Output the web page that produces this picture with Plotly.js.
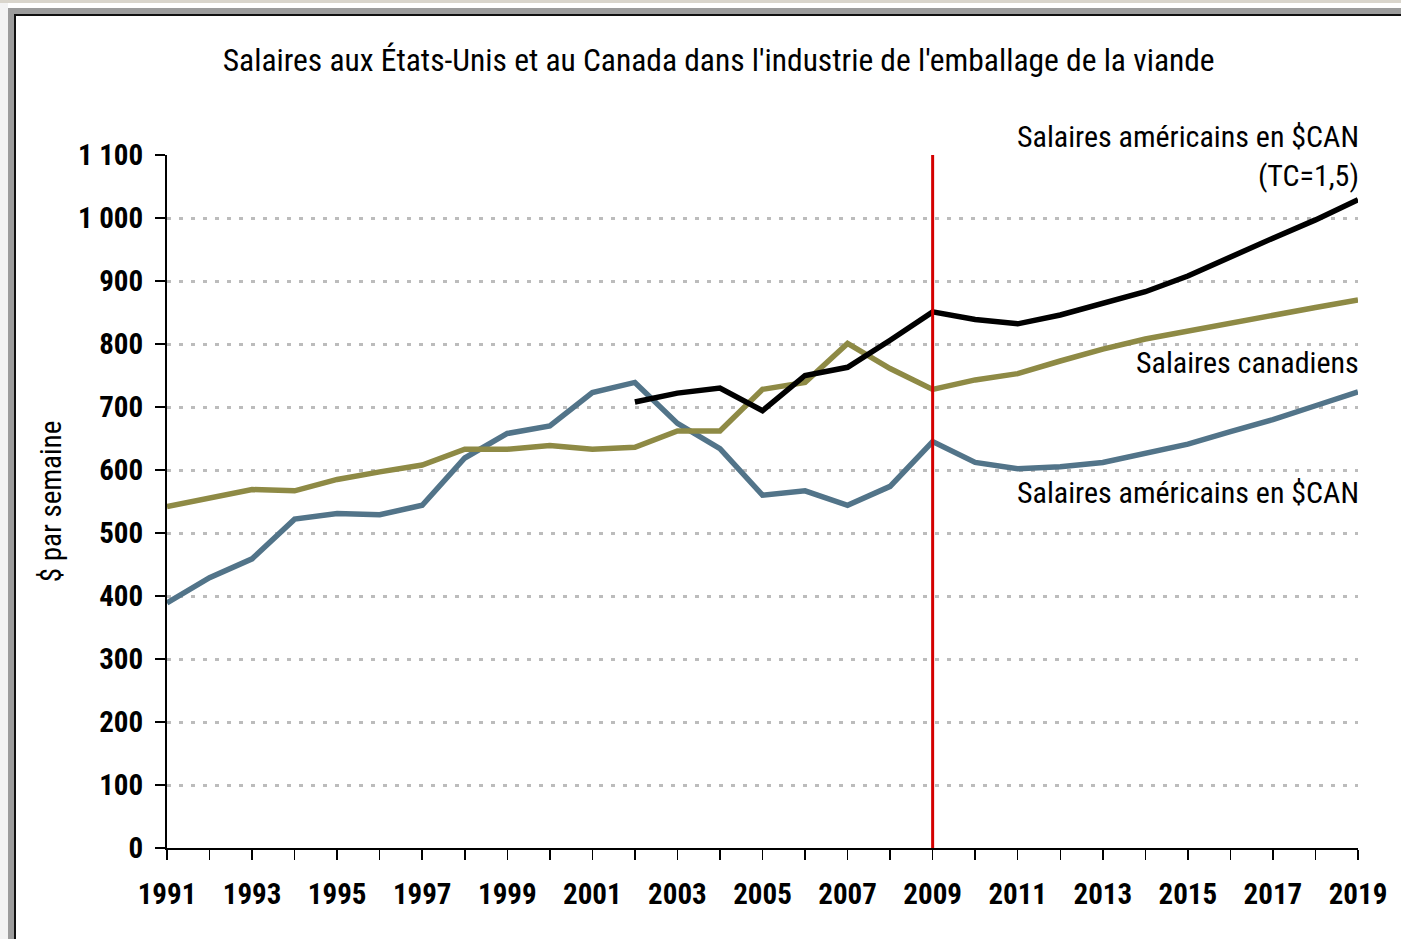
<!DOCTYPE html>
<html>
<head>
<meta charset="utf-8">
<script src="https://cdn.plot.ly/plotly-3.0.1.min.js"></script>
<style>
  html, body { margin: 0; padding: 0; background: #ffffff; }
  #wrap { position: relative; width: 1401px; height: 939px; overflow: hidden; background: #ffffff; }
  .band { position: absolute; }
  #chart { position: absolute; left: 0; top: 0; width: 1401px; height: 939px; }
</style>
</head>
<body>
<div id="wrap">
  <div class="band" style="left:0;top:0;width:1401px;height:3px;background:#d9d5cc;"></div>
  <div class="band" style="left:0;top:3px;width:8px;height:936px;background:#f3f3f3;"></div>
  <div class="band" style="left:8px;top:8px;width:1393px;height:6px;background:#9c9c9c;"></div>
  <div class="band" style="left:8px;top:8px;width:6px;height:931px;background:#9c9c9c;"></div>
  <div class="band" style="left:14px;top:14px;width:1387px;height:2px;background:#111111;"></div>
  <div class="band" style="left:14px;top:14px;width:2px;height:925px;background:#111111;"></div>
  <div id="chart"></div>
</div>
<script>
// ---- Data ----
const years = [1991,1992,1993,1994,1995,1996,1997,1998,1999,2000,2001,2002,2003,2004,2005,2006,2007,2008,2009,2010,2011,2012,2013,2014,2015,2016,2017,2018,2019];

const usInCad = [389,429,459,522,531,529,544,619,658,670,723,739,674,634,560,567,544,574,645,612,602,605,612,626,641,661,680,702,724];

const canadian = [542,555,569,567,585,597,608,633,633,639,633,636,662,662,728,739,801,761,728,743,753,773,792,808,821,833,845,858,870];

const usTcYears = [2002,2003,2004,2005,2006,2007,2008,2009,2010,2011,2012,2013,2014,2015,2016,2017,2018,2019];
const usInCadTc = [708,722,730,694,750,763,806,851,839,832,846,865,883,908,939,968,997,1029];

const yTickVals = [0,100,200,300,400,500,600,700,800,900,1000,1100];
const yTickText = ['0','100','200','300','400','500','600','700','800','900','1 000','1 100'];

const xTickText = years.map(y => ((y - 1991) % 2 === 0) ? String(y) : '');

const labelTc = 'Salaires américains en $CAN<br>(TC=1,5)';
const labelCan = 'Salaires canadiens';
const labelUs = 'Salaires américains en $CAN';
const titleText = "Salaires aux États-Unis et au Canada dans l'industrie de l'emballage de la viande";
const yTitle = '$ par semaine';
const markerYear = 2009;

const FONT = '"Roboto Condensed", "DejaVu Sans Condensed", sans-serif';

const traces = [
  { x: years, y: usInCad, type: 'scatter', mode: 'lines', name: labelUs,
    line: { color: '#527489', width: 5.5 }, hoverinfo: 'x+y' },
  { x: years, y: canadian, type: 'scatter', mode: 'lines', name: labelCan,
    line: { color: '#8e8a45', width: 5.5 }, hoverinfo: 'x+y' },
  { x: usTcYears, y: usInCadTc, type: 'scatter', mode: 'lines', name: 'TC=1,5',
    line: { color: '#000000', width: 5.5 }, hoverinfo: 'x+y' }
];

const layout = {
  width: 1401, height: 939,
  paper_bgcolor: 'rgba(0,0,0,0)',
  plot_bgcolor: 'rgba(0,0,0,0)',
  showlegend: false,
  margin: { l: 167, r: 43, t: 155, b: 91, pad: 0 },
  font: { family: FONT, color: '#000000' },
  title: {
    text: titleText,
    font: { family: FONT, size: 31.5, color: '#000000' },
    xref: 'container', yref: 'container',
    x: 0.513, xanchor: 'center',
    y: 1 - 60/939, yanchor: 'middle'
  },
  xaxis: {
    range: [1991, 2019],
    tickmode: 'array', tickvals: years, ticktext: xTickText,
    ticks: 'outside', ticklen: 10, tickwidth: 1.5, tickcolor: '#000000',
    showline: true, linecolor: '#000000', linewidth: 2,
    showgrid: false, zeroline: false,
    tickfont: { family: FONT, size: 29, color: '#000000', weight: 'bold' },
    ticklabelstandoff: 9,
    fixedrange: true
  },
  yaxis: {
    range: [0, 1100],
    tickmode: 'array', tickvals: yTickVals, ticktext: yTickText,
    ticks: 'outside', ticklen: 10, tickwidth: 1.5, tickcolor: '#000000',
    showline: true, linecolor: '#000000', linewidth: 2,
    showgrid: true, gridcolor: '#bcbcbc', gridwidth: 3, griddash: '4px,8px',
    zeroline: false,
    tickfont: { family: FONT, size: 29, color: '#000000', weight: 'bold' },
    ticklabelstandoff: 6,
    title: { text: yTitle, font: { family: FONT, size: 29, color: '#000000' }, standoff: 8 },
    fixedrange: true
  },
  shapes: [
    { type: 'line', xref: 'x', yref: 'y', x0: markerYear, x1: markerYear, y0: 0, y1: 1100,
      line: { color: '#d40000', width: 3 } }
  ],
  annotations: [
    { xref: 'x', yref: 'y', x: 2019, y: 1098, xanchor: 'right', yanchor: 'middle', align: 'right',
      xshift: 3, text: labelTc, showarrow: false, font: { family: FONT, size: 30, color: '#000000' } },
    { xref: 'x', yref: 'y', x: 2019, y: 771, xanchor: 'right', yanchor: 'middle', align: 'right',
      xshift: 3, text: labelCan, showarrow: false, font: { family: FONT, size: 30, color: '#000000' } },
    { xref: 'x', yref: 'y', x: 2019, y: 565, xanchor: 'right', yanchor: 'middle', align: 'right',
      xshift: 3, text: labelUs, showarrow: false, font: { family: FONT, size: 30, color: '#000000' } }
  ]
};

Plotly.newPlot('chart', traces, layout, { displayModeBar: false, staticPlot: true });
</script>
</body>
</html>
